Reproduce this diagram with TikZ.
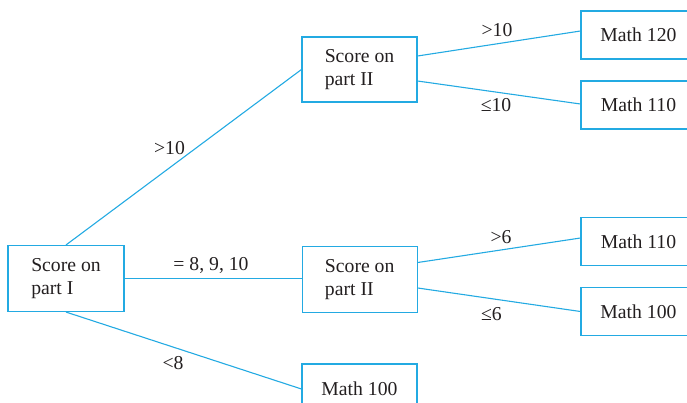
\documentclass[tikz,border=0pt]{standalone}
\usepackage{fontspec}
\setmainfont{Liberation Serif}
\usepackage{tikz}
\usepackage{xcolor}
\usetikzlibrary{positioning, calc}
\definecolor{TreeCyan}{RGB}{35,170,226}
\definecolor{TreeText}{HTML}{231F20}
\tikzset{
    % Node styles - plain boxes with sharp corners
    scorebox/.style={
        rectangle,
        draw=TreeCyan,
        line width=1.1pt,
        minimum width=115pt,
        minimum height=66pt,
        align=left,
        text=TreeText,
        font=\fontsize{19.7}{22.5}\selectfont
    },
    coursebox/.style={
        rectangle,
        draw=TreeCyan,
        line width=1.1pt,
        minimum width=115pt,
        minimum height=48pt,
        text=TreeText,
        font=\fontsize{19.7}{22.5}\selectfont
    },
    % Branch styles
    branch/.style={
        draw=TreeCyan,
        line width=1.1pt
    },
    branchlabel/.style={
        anchor=base,
        inner sep=0pt,
        text=TreeText,
        font=\fontsize{19.7}{22.5}\selectfont
    }
}
\begin{document}
\begin{tikzpicture}[x=1pt, y=-1pt]
    \useasboundingbox (0,0) rectangle (687,402);
    \clip (0,0) rectangle (687,402);

    % First test
    \node[scorebox,minimum width=116pt] (part1) at (66,278.5) {Score on\\part I};

    % Second test
    \node[scorebox,minimum height=65pt] (p2top) at (359.5,69.5) {Score on\\part II};
    \node[scorebox] (p2mid) at (359.7,279.5) {Score on\\part II};

    % Courses
    \node[coursebox] (m120) at (638.5,35) {Math 120};
    \node[coursebox] (m110a) at (638.5,105) {Math 110};
    \node[coursebox] (m110b) at (638.5,241.5) {Math 110};
    \node[coursebox] (m100a) at (638.5,311.5) {Math 100};
    \node[coursebox,minimum height=50pt] (m100b) at (359.5,389) {Math 100};

    % Branches
    \draw[branch] (part1.north) -- (p2top.west);
    \draw[branch] (part1.east) -- (part1.east -| p2mid.west);
    \draw[branch] (part1.south) -- (m100b.west);
    \draw[branch] ([yshift=13.5pt]p2top.east) -- ([yshift=4pt]m120.west);
    \draw[branch] ([yshift=-11.5pt]p2top.east) -- ([yshift=1pt]m110a.west);
    \draw[branch] ([yshift=17pt]p2mid.east) -- ([yshift=3.5pt]m110b.west);
    \draw[branch] ([yshift=-8.5pt]p2mid.east) -- (m100a.west);

    % Branch labels
    \node[branchlabel] (lgt10) at (169.5,154) {>10};
    \node[branchlabel] (leq) at (211,270.7) {= 8, 9, 10};
    \node[branchlabel] (llt8) at (173,369) {<8};
    \node[branchlabel] (rgt10) at (497,36) {>10};
    \node[branchlabel] (rle10) at (496,111) {≤10};
    \node[branchlabel] (rgt6) at (501,243) {>6};
    \node[branchlabel] (rle6) at (491.5,320) {≤6};
\end{tikzpicture}
\end{document}
